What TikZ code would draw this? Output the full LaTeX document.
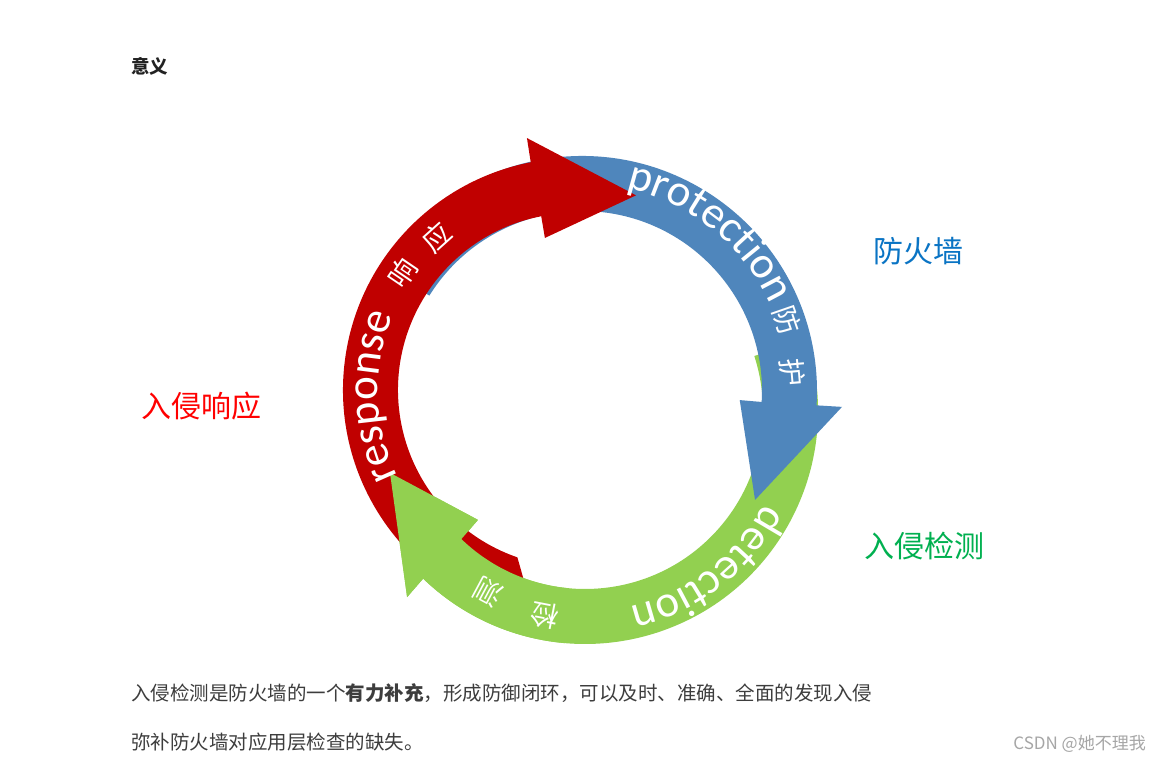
\documentclass[tikz,border=0pt]{standalone}
\usepackage{fontspec}
\setmainfont{Noto Sans CJK SC}
\newfontfamily\engfont{Carlito}
\usetikzlibrary{decorations.text}
\definecolor{redarrow}{HTML}{C00000}
\definecolor{bluearrow}{HTML}{4F86BC}
\definecolor{greenarrow}{HTML}{92D050}
\definecolor{fwblue}{HTML}{0A74C4}
\definecolor{irred}{HTML}{FF0000}
\definecolor{idgreen}{HTML}{00B050}
\definecolor{bodytext}{HTML}{3D3D3D}
\definecolor{headtext}{HTML}{222222}
\newcommand{\engtext}{\engfont\fontsize{45}{45}\selectfont\color{white}}
\begin{document}
\begin{tikzpicture}[x=1pt,y=1pt,
  ringcn/.style={font=\fontsize{28}{28}\selectfont, text=white, inner sep=0pt},
  sidelabel/.style={font=\fontsize{30}{30}\selectfont, inner sep=0pt},
  bodyline/.style={anchor=west, inner sep=0pt, font=\fontsize{19.5}{19.5}\selectfont, text=bodytext},
  ringword/.style={decorate, decoration={text along path, text align=center, text={|\engtext|#1}}}
]
\useasboundingbox (0,0) rectangle (1160,762);
\fill[white] (0,0) rectangle (1160,762);
\coordinate (R) at (575,372);
\coordinate (B) at (582,371);
\coordinate (G) at (585,351);

% green arrow (detection)
\fill[greenarrow] ([shift={(18:233)}]G) arc[start angle=18, end angle=-134, radius=233]
  -- ([shift={(-133.7:257.5)}]G) -- ([shift={(-162.4:204.6)}]G)
  -- ([shift={(-134.5:152.7)}]G) -- ([shift={(-134:178)}]G)
  arc[start angle=-134, end angle=18, radius=178] -- cycle;

% blue arrow (protection)
\fill[bluearrow] ([shift={(148:235)}]B) arc[start angle=148, end angle=-3.5, radius=235]
  -- ([shift={(-3.5:260.5)}]B) -- ([shift={(-32.2:204.5)}]B)
  -- ([shift={(-3.3:158)}]B) -- ([shift={(-3.5:180)}]B)
  arc[start angle=-3.5, end angle=148, radius=180] -- cycle;

% red arrow (response)
\fill[redarrow] ([shift={(260:232)}]R) arc[start angle=260, end angle=101, radius=232]
  -- ([shift={(100.8:256.5)}]R) -- ([shift={(72.6:204)}]R)
  -- ([shift={(101.2:155)}]R) -- ([shift={(101:177)}]R)
  arc[start angle=101, end angle=251, radius=177] -- cycle;

% green head again, over the red tail
\fill[greenarrow] ([shift={(-95:233)}]G) arc[start angle=-95, end angle=-134, radius=233]
  -- ([shift={(-133.7:257.5)}]G) -- ([shift={(-162.4:204.6)}]G)
  -- ([shift={(-134.5:152.7)}]G) -- ([shift={(-134:178)}]G)
  arc[start angle=-134, end angle=-95, radius=178] -- cycle;

% words along the ring
\path[ringword=protection] ([shift={(91.2:207.5)}]B) arc[start angle=91.2, end angle=11.2, radius=207.5];
\path[ringword=response] ([shift={(221.9:197)}]R) arc[start angle=221.9, end angle=141.9, radius=197];
\path[ringword=detection] ([shift={(-12.2:201)}]G) arc[start angle=-12.2, end angle=-92.2, radius=201];

% Chinese characters in the ring
\node[ringcn, rotate=55.8] (xiang) at ([shift={(145.8:208)}]R) {响};
\node[ringcn, rotate=42] (ying) at ([shift={(132:206)}]R) {应};
\node[ringcn, rotate=-70.9] (fang) at ([shift={(19.1:217)}]B) {防};
\node[ringcn, rotate=-85.1] (hu) at ([shift={(4.9:210.8)}]B) {护};
\node[ringcn, rotate=168.9] (jian) at ([shift={(-101.1:208)}]G) {检};
\node[ringcn, rotate=151.8] (ce) at ([shift={(-118.2:205)}]G) {测};

% side labels
\node[sidelabel, text=fwblue] (fw) at (918,511) {防火墙};
\node[sidelabel, text=irred] (ir) at (201,356) {入侵响应};
\node[sidelabel, text=idgreen] (id) at (924,216) {入侵检测};

% texts
\node[anchor=west, inner sep=0pt, font=\fontsize{18.5}{18.5}\selectfont\bfseries, text=headtext] (title) at (131,696) {意义};
\node[bodyline] (line1) at (131,69)
  {入侵检测是防火墙的一个{\bfseries 有力补充}，形成防御闭环，可以及时、准确、全面的发现入侵};
\node[bodyline] (line2) at (131,20) {弥补防火墙对应用层检查的缺失。};
\node[anchor=east, inner sep=0pt, font=\fontsize{17}{17}\selectfont, text=gray!70] (mark) at (1146,18) {CSDN @她不理我};
\end{tikzpicture}
\end{document}
